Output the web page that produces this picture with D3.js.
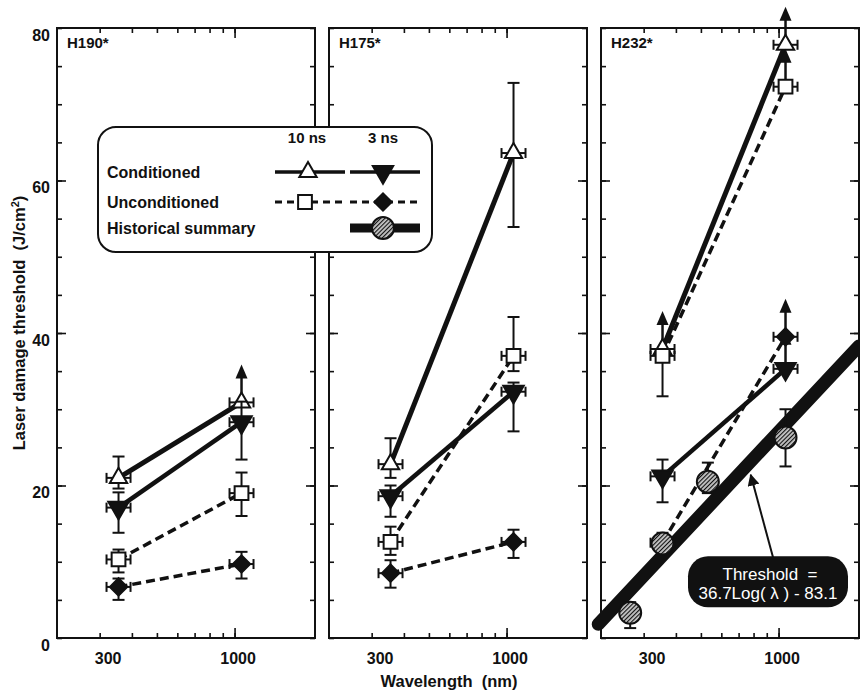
<!DOCTYPE html>
<html>
<head>
<meta charset="utf-8">
<script src="https://cdn.jsdelivr.net/npm/d3@7"></script>
<style>
body { margin: 0; background: #fff; }
text { font-family: "Liberation Sans", Arial, sans-serif; font-weight: bold; fill: #111; }
</style>
</head>
<body>
<script>
// panels (glass samples) and laser wavelengths in nm
var panelNames = ["H190*", "H175*", "H232*"];
var wavelengths = [355, 1064];
var xTickValues = [300, 400, 500, 600, 700, 800, 900, 1000];
var xTickLabels = [300, 1000];
var yTickLabels = [0, 20, 40, 60, 80];

// Conditioned 10 ns (open triangle), one pair per panel [355, 1064]
var cond10   = [[21.0, 30.9], [22.8, 63.6], [37.9, 77.8]];
var cond10Lo = [[19.6, 30.9], [21.0, 53.9], [31.7, 77.8]];
var cond10Hi = [[23.8, 30.9], [26.2, 72.8], [37.9, 77.8]];
var cond10Up = [[false, true], [false, false], [true, true]];

// Conditioned 3 ns (filled down triangle)
var cond3   = [[17.1, 28.3], [18.6, 32.3], [21.2, 35.3]];
var cond3Lo = [[13.8, 23.4], [15.9, 27.1], [17.8, 35.3]];
var cond3Hi = [[19.1, 31.0], [20.0, 33.5], [23.4, 35.3]];
var cond3Up = [[false, false], [false, false], [false, true]];

// Unconditioned 10 ns (open square)
var uncond10   = [[10.3, 19.0], [12.6, 37.0], [37.0, 72.3]];
var uncond10Lo = [[8.6, 16.0], [10.9, 35.0], [37.0, 72.3]];
var uncond10Hi = [[11.6, 21.7], [14.6, 42.1], [37.0, 72.3]];
var uncond10Up = [[false, false], [false, false], [false, true]];

// Unconditioned 3 ns (filled diamond)
var uncond3   = [[6.7, 9.7], [8.5, 12.6], [12.5, 39.5]];
var uncond3Lo = [[5.0, 7.8], [6.6, 10.5], [12.5, 39.5]];
var uncond3Hi = [[7.8, 11.3], [10.2, 14.2], [12.5, 39.5]];
var uncond3Up = [[false, false], [false, false], [false, true]];

// Historical summary (H232* panel only)
var histWavelength = [266, 355, 532, 1064];
var histValue = [3.3, 12.4, 20.5, 26.3];
var histLo = [1.3, 11.5, 19.0, 22.5];
var histHi = [4.7, 13.8, 23.0, 30.0];

// threshold fit line endpoints: 36.7Log(λ) - 83.1
var thresholdWl = [200, 2050];
var thresholdVal = [1.8, 38.3];

//Layout
var W = 866, H = 690;
var panelLeft = 57, panelTop = 28, panelW = 258, panelH = 610, panelStep = 272;

var svg = d3.select("body").append("svg")
    .attr("width", W)
    .attr("height", H);

var defs = svg.append("defs");
var pat = defs.append("pattern")
    .attr("id", "hatch")
    .attr("patternUnits", "userSpaceOnUse")
    .attr("width", 3).attr("height", 3)
    .attr("patternTransform", "rotate(45)");
pat.append("rect").attr("width", 3).attr("height", 3).attr("fill", "#c4c4c4");
pat.append("line").attr("x1", 0.5).attr("y1", 0).attr("x2", 0.5).attr("y2", 3)
    .attr("stroke", "#111").attr("stroke-width", 1.2);

defs.append("marker")
    .attr("id", "head")
    .attr("viewBox", "0 0 10 10")
    .attr("refX", 9).attr("refY", 5)
    .attr("markerWidth", 6).attr("markerHeight", 6)
    .attr("markerUnits", "strokeWidth")
    .attr("orient", "auto")
    .append("path").attr("d", "M0,0 L10,5 L0,10 Z").attr("fill", "#111");

var x = d3.scaleLog().domain([205, 2050]).range([0, panelW]);
var y = d3.scaleLinear().domain([0, 80]).range([panelH, 0]);

var series = [
    {v: cond10, lo: cond10Lo, hi: cond10Hi, up: cond10Up, sym: "tri", dash: null, width: 5},
    {v: cond3, lo: cond3Lo, hi: cond3Hi, up: cond3Up, sym: "dtri", dash: null, width: 4.5},
    {v: uncond10, lo: uncond10Lo, hi: uncond10Hi, up: uncond10Up, sym: "sq", dash: "9,5", width: 3.5},
    {v: uncond3, lo: uncond3Lo, hi: uncond3Hi, up: uncond3Up, sym: "dia", dash: "9,5", width: 3.5}
];

// Marker zeichnen
function marker(g, kind, cx, cy) {
    if (kind == "circ") {
        g.append("circle").attr("cx", cx).attr("cy", cy).attr("r", 11)
            .attr("fill", "url(#hatch)").attr("stroke", "#111").attr("stroke-width", 2);
        return;
    }
    var type = d3.symbolTriangle, size = 130, rot = 0, fill = "#fff";
    if (kind == "dtri") { size = 180; rot = 180; fill = "#111"; }
    if (kind == "sq") { type = d3.symbolSquare; size = 190; }
    if (kind == "dia") { type = d3.symbolSquare; size = 150; rot = 45; fill = "#111"; }
    g.append("path")
        .attr("d", d3.symbol().type(type).size(size)())
        .attr("transform", "translate(" + cx + "," + cy + ") rotate(" + rot + ")")
        .attr("fill", fill)
        .attr("stroke", "#111")
        .attr("stroke-width", 2);
}

function vErr(g, cx, y1, y2) {
    if (Math.abs(y1 - y2) < 0.5) return;
    g.append("line").attr("x1", cx).attr("x2", cx).attr("y1", y1).attr("y2", y2);
    g.append("line").attr("x1", cx - 6).attr("x2", cx + 6).attr("y1", y1).attr("y2", y1);
    g.append("line").attr("x1", cx - 6).attr("x2", cx + 6).attr("y1", y2).attr("y2", y2);
}

function hErr(g, cx, cy) {
    g.append("line").attr("x1", cx - 12).attr("x2", cx + 12).attr("y1", cy).attr("y2", cy);
    g.append("line").attr("x1", cx - 12).attr("x2", cx - 12).attr("y1", cy - 5).attr("y2", cy + 5);
    g.append("line").attr("x1", cx + 12).attr("x2", cx + 12).attr("y1", cy - 5).attr("y2", cy + 5);
}

function upArrow(g, cx, cy) {
    var L = 38;
    g.append("line").attr("x1", cx).attr("x2", cx).attr("y1", cy).attr("y2", cy - L + 10)
        .attr("stroke", "#111").attr("stroke-width", 2.5);
    g.append("path")
        .attr("d", "M" + cx + "," + (cy - L) + " L" + (cx - 6) + "," + (cy - L + 14) + " L" + (cx + 6) + "," + (cy - L + 14) + " Z")
        .attr("fill", "#111");
}

var line = d3.line()
    .x(function(d) { return x(d[0]); })
    .y(function(d) { return y(d[1]); });

panelNames.forEach(function(name, p) {
    var g = svg.append("g")
        .attr("transform", "translate(" + (panelLeft + p * panelStep) + "," + panelTop + ")");

    // Ticks innen, alle vier Seiten
    var minorY = d3.range(0, 81, 5);
    var majorY = [20, 40, 60];
    var tickSets = [
        [d3.axisRight(y).tickValues(minorY).tickSize(5), 0, 0],
        [d3.axisRight(y).tickValues(majorY).tickSize(9), 0, 0],
        [d3.axisLeft(y).tickValues(minorY).tickSize(5), panelW, 0],
        [d3.axisLeft(y).tickValues(majorY).tickSize(9), panelW, 0],
        [d3.axisBottom(x).tickValues(xTickValues).tickSize(5), 0, 0],
        [d3.axisBottom(x).tickValues([1000]).tickSize(10), 0, 0],
        [d3.axisTop(x).tickValues(xTickValues).tickSize(5), 0, panelH],
        [d3.axisTop(x).tickValues([1000]).tickSize(10), 0, panelH]
    ];
    tickSets.forEach(function(t) {
        g.append("g")
            .attr("transform", "translate(" + t[1] + "," + t[2] + ")")
            .call(t[0].tickFormat("").tickSizeOuter(0))
            .call(function(a) { a.select(".domain").remove(); })
            .selectAll("line").attr("stroke", "#111").attr("stroke-width", 1.6);
    });

    // x labels
    g.append("g")
        .attr("transform", "translate(0," + panelH + ")")
        .call(d3.axisBottom(x).tickValues(xTickLabels).tickFormat(d3.format("d")).tickSize(0).tickPadding(15))
        .call(function(a) { a.select(".domain").remove(); })
        .selectAll("text")
        .attr("font-size", 16)
        .attr("dx", function(d) { return d == 300 ? 8 : 3; });

    if (p == 0) {
        g.append("g")
            .call(d3.axisLeft(y).tickValues(yTickLabels).tickSize(0).tickPadding(7))
            .call(function(a) { a.select(".domain").remove(); })
            .selectAll("text")
            .attr("font-size", 16)
            .attr("dy", "0.75em");
    }

    // Linien
    series.forEach(function(s) {
        g.append("path")
            .datum(wavelengths.map(function(w, i) { return [w, s.v[p][i]]; }))
            .attr("d", line)
            .attr("fill", "none")
            .attr("stroke", "#111")
            .attr("stroke-width", s.width)
            .attr("stroke-dasharray", s.dash);
    });

    if (p == 2) {
        var clipId = "clip3";
        defs.append("clipPath").attr("id", clipId)
            .append("rect").attr("x", -12).attr("y", 0).attr("width", panelW + 12).attr("height", panelH);
        g.append("path")
            .datum(thresholdWl.map(function(w, i) { return [w, thresholdVal[i]]; }))
            .attr("d", line)
            .attr("clip-path", "url(#" + clipId + ")")
            .attr("fill", "none")
            .attr("stroke", "#111")
            .attr("stroke-width", 13)
            .attr("stroke-linecap", "round");
    }

    // Fehlerbalken, Pfeile, Symbole
    series.forEach(function(s) {
        wavelengths.forEach(function(w, i) {
            var cx = x(w), cy = y(s.v[p][i]);
            var eg = g.append("g").attr("stroke", "#111").attr("stroke-width", 2);
            vErr(eg, cx, y(s.lo[p][i]), y(s.hi[p][i]));
            hErr(eg, cx, cy);
            if (s.up[p][i]) upArrow(g, cx, cy);
            marker(g, s.sym, cx, cy);
        });
    });

    if (p == 2) {
        histWavelength.forEach(function(w, i) {
            var eg = g.append("g").attr("stroke", "#111").attr("stroke-width", 2);
            vErr(eg, x(w), y(histLo[i]), y(histHi[i]));
            marker(g, "circ", x(w), y(histValue[i]));
        });

        // Annotation box
        var bx = x(910), by = y(7.3);
        g.append("line")
            .attr("x1", bx + 5).attr("y1", by - 25)
            .attr("x2", x(780)).attr("y2", y(21.4))
            .attr("stroke", "#111").attr("stroke-width", 2)
            .attr("marker-end", "url(#head)");
        g.append("rect")
            .attr("x", bx - 80).attr("y", by - 26)
            .attr("width", 160).attr("height", 51)
            .attr("rx", 20)
            .attr("fill", "#111");
        g.append("text")
            .attr("x", bx + 2).attr("y", by - 2)
            .attr("text-anchor", "middle")
            .attr("font-size", 17)
            .style("font-weight", "normal")
            .style("fill", "#fff")
            .style("white-space", "pre")
            .text("Threshold  =");
        g.append("text")
            .attr("x", bx).attr("y", by + 17)
            .attr("text-anchor", "middle")
            .attr("font-size", 17)
            .style("font-weight", "normal")
            .style("fill", "#fff")
            .text("36.7Log( λ ) - 83.1");
    }

    // Rahmen
    g.append("rect")
        .attr("width", panelW).attr("height", panelH)
        .attr("fill", "none")
        .attr("stroke", "#111")
        .attr("stroke-width", 2);

    g.append("text")
        .attr("x", 10).attr("y", 20)
        .attr("font-size", 15)
        .text(name);
});

// Legende
var leg = svg.append("g");
leg.append("rect")
    .attr("x", 98).attr("y", 127)
    .attr("width", 334).attr("height", 125)
    .attr("rx", 18)
    .attr("fill", "#fff")
    .attr("stroke", "#111")
    .attr("stroke-width", 2);
leg.append("text").attr("x", 307).attr("y", 143).attr("text-anchor", "middle").attr("font-size", 15).text("10 ns");
leg.append("text").attr("x", 383).attr("y", 143).attr("text-anchor", "middle").attr("font-size", 15).text("3 ns");
var rows = [["Conditioned", 172], ["Unconditioned", 202], ["Historical summary", 228]];
rows.forEach(function(r) {
    leg.append("text").attr("x", 107).attr("y", r[1] + 6).attr("font-size", 16).text(r[0]);
});
var legItems = [
    [series[0], 275, 345, 308, 172],
    [series[1], 350, 420, 383, 172],
    [series[2], 275, 345, 305, 202],
    [series[3], 350, 420, 383, 202]
];
legItems.forEach(function(it) {
    leg.append("line")
        .attr("x1", it[1]).attr("x2", it[2]).attr("y1", it[4]).attr("y2", it[4])
        .attr("stroke", "#111")
        .attr("stroke-width", it[0].dash ? 3 : 3.5)
        .attr("stroke-dasharray", it[0].dash ? "7,5" : null);
    marker(leg, it[0].sym, it[3], it[4]);
});
leg.append("line")
    .attr("x1", 350).attr("x2", 420).attr("y1", 228).attr("y2", 228)
    .attr("stroke", "#111").attr("stroke-width", 9);
marker(leg, "circ", 383, 228);

// Achsentitel
svg.append("text")
    .attr("transform", "translate(25,323) rotate(-90)")
    .attr("text-anchor", "middle")
    .attr("font-size", 16.5)
    .style("white-space", "pre")
    .text("Laser damage threshold  (J/cm")
    .append("tspan").attr("baseline-shift", "super").attr("font-size", 11).text("2")
    .select(function() { return this.parentNode; })
    .append("tspan").text(")");

svg.append("text")
    .attr("x", 449).attr("y", 687)
    .attr("text-anchor", "middle")
    .attr("font-size", 16.5)
    .style("white-space", "pre")
    .text("Wavelength  (nm)");
</script>
</body>
</html>
